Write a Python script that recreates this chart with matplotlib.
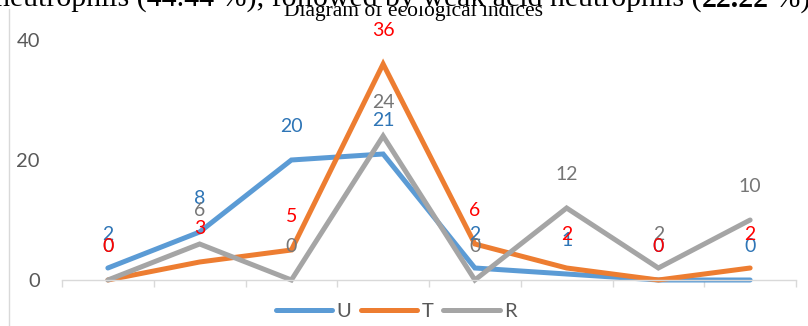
import matplotlib
matplotlib.use("Agg")
import matplotlib.pyplot as plt
from matplotlib.lines import Line2D
from matplotlib.patches import Rectangle

# values
categories = list(range(8))
series_names = ["U", "T", "R"]
u_values = [2, 8, 20, 21, 2, 1, 0, 0]
t_values = [0, 3, 5, 36, 6, 2, 0, 2]
r_values = [0, 6, 0, 24, 0, 12, 2, 10]
y_ticks = [0, 20, 40]

line_colors = ["#5B9BD5", "#ED7D31", "#A5A5A5"]
label_colors = ["#2E75B6", "#FF0000", "#767676"]

W, H = 808, 326
sans = ["Lato", "DejaVu Sans"]
serif = ["Liberation Serif", "DejaVu Serif"]

fig = plt.figure(figsize=(W / 100, H / 100), dpi=100)
ax = fig.add_axes([62 / W, 1 - 280 / H, (796 - 62) / W, (280 - 40) / H])

all_values = [u_values, t_values, r_values]
for name, vals, col in zip(series_names, all_values, line_colors):
    ax.plot(categories, vals, color=col, lw=3.6, label=name,
            solid_capstyle="round", solid_joinstyle="miter", clip_on=False)

# data labels, drawn above each point
for vals, col in [(u_values, label_colors[0]), (r_values, label_colors[2]),
                  (t_values, label_colors[1])]:
    for x, v in zip(categories, vals):
        ax.annotate(str(v), (x, v), xytext=(0, 24), textcoords="offset points",
                    ha="center", va="center", color=col, fontsize=14,
                    family=sans, annotation_clip=False)

ax.set_xlim(-0.5, 7.5)
ax.set_ylim(0, 40)
ax.set_xticks([i - 0.5 for i in range(9)])
ax.set_xticklabels([])
ax.set_yticks(y_ticks)
ax.set_yticklabels([str(t) for t in y_ticks], family=sans, fontsize=14.5, color="#595959")
ax.tick_params(axis="x", direction="out", length=5, color="#D9D9D9", width=1)
ax.tick_params(axis="y", length=0, pad=16)
for s in ["top", "right", "left"]:
    ax.spines[s].set_visible(False)
ax.spines["bottom"].set_color("#D9D9D9")
ax.spines["bottom"].set_linewidth(1)

leg = fig.legend(loc="center", bbox_to_anchor=(396 / W, 1 - 311 / H), ncol=3,
                 frameon=False, handlelength=2.8, handletextpad=0.2,
                 columnspacing=0.5, prop={"family": sans, "size": 14.5})
for t in leg.get_texts():
    t.set_color("#595959")
for h in leg.get_lines():
    h.set_linewidth(3.6)

# chart border on the left
fig.add_artist(Line2D([9 / W, 9 / W], [0, 1 - 9 / H], color="#D9D9D9", lw=1))

fig.text(414 / W, 1 - 16 / H, "Diagram of ecological indices", ha="center",
         va="baseline", family=serif, fontsize=15.5, zorder=3)
fig.add_artist(Rectangle((0, 1 - 6 / H), 1, 6 / H, transform=fig.transFigure,
                         facecolor="white", edgecolor="none", zorder=4))

# cut-off line of body text above the chart
t1 = fig.text(-5 / W, 1 - 7 / H,
              "neutrophils (44.44 %), followed by weak acid neutrophils (",
              ha="left", va="baseline", family=serif, fontsize=21.5, zorder=5)
fig.canvas.draw()
bb = t1.get_window_extent()
t2 = fig.text(bb.x1 / W, 1 - 7 / H, "22.22", ha="left", va="baseline",
              family=serif, fontsize=21.5, weight="bold", zorder=5)
bb2 = t2.get_window_extent()
fig.text(bb2.x1 / W, 1 - 7 / H, " %)", ha="left", va="baseline",
         family=serif, fontsize=21.5, zorder=5)

fig.savefig("out.png", dpi=100)
